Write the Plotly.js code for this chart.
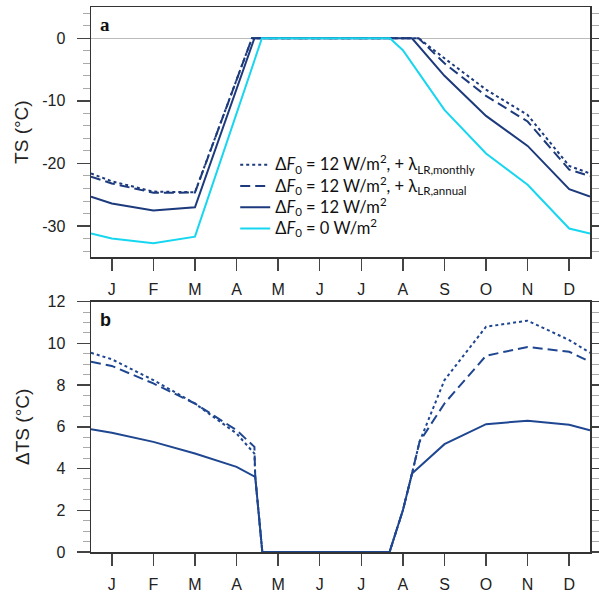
<!DOCTYPE html>
<html>
<head>
<meta charset="utf-8">
<script src="https://cdn.plot.ly/plotly-3.0.1.min.js"></script>
<style>html,body{margin:0;padding:0;background:#fff;}#chart{width:599px;height:595px;}</style>
</head>
<body>
<div id="chart"></div>
<script>
// ---- tick labels ----
const monthTicks = [1,2,3,4,5,6,7,8,9,10,11,12];
const monthLabels = ['J','F','M','A','M','J','J','A','S','O','N','D'];
const tsTickVals = [-30,-20,-10,0];
const tsTickText = ['-30','-20','-10','0'];
const dtsTickVals = [0,2,4,6,8,10,12];

// ---- panel a: TS (°C) ----
const tsF0_x      = [0.5,1,2,3,4.61,7.69,8,9,10,11,12,12.5];
const tsF0_y      = [-31.2,-32.0,-32.75,-31.7,0,0,-1.9,-11.45,-18.4,-23.4,-30.4,-31.2];
const tsF12_x     = [0.5,1,2,3,4.43,8.22,9,10,11,12,12.5];
const tsF12_y     = [-25.3,-26.4,-27.5,-27.0,0,0,-6.0,-12.4,-17.2,-24.1,-25.3];
const tsAnnual_x  = [0.5,1,2,3,4.37,8.38,9,10,11,12,12.5];
const tsAnnual_y  = [-22.1,-23.2,-24.67,-24.66,0,0,-4.0,-9.2,-13.3,-21.0,-22.0];
const tsMonthly_x = [0.5,1,2,3,4.37,8.38,9,10,11,12,12.5];
const tsMonthly_y = [-21.6,-22.85,-24.5,-24.6,0,0,-3.2,-8.2,-12.25,-20.4,-21.6];

// ---- panel b: ΔTS (°C) ----
const dF12_x      = [0.5,1,2,3,4,4.45,4.62,7.68,8,8.22,9,10,11,12,12.5];
const dF12_y      = [5.88,5.72,5.28,4.72,4.08,3.6,0,0,2.0,3.76,5.17,6.13,6.29,6.1,5.84];
const dAnnual_x   = [0.5,1,2,3,4,4.43,4.45,4.62,7.68,8,8.22,8.4,9,10,11,12,12.5];
const dAnnual_y   = [9.12,8.92,8.08,7.12,5.84,5.04,3.6,0,0,2.0,3.76,5.28,7.12,9.41,9.83,9.6,9.12];
const dMonthly_x  = [0.5,1,2,3,4,4.43,4.45,4.62,7.68,8,8.22,8.4,9,10,11,12,12.5];
const dMonthly_y  = [9.55,9.24,8.24,7.12,5.68,4.72,3.6,0,0,2.0,3.76,5.28,8.24,10.8,11.09,10.16,9.55];

const NAVY = '#1c3a7c';
const NAVY_B = '#1f4690';
const CYAN = '#16d6f0';
const LW = 2;

function legText(s){ return '<span style="font-size:16.5px">' + s + '</span>'; }
const legMonthly = legText('\u0394<i>F</i><sub>0</sub> = 12 W/m<sup>2</sup>, + \u03bb<sub>LR,monthly</sub>');
const legAnnual  = legText('\u0394<i>F</i><sub>0</sub> = 12 W/m<sup>2</sup>, + \u03bb<sub>LR,annual</sub>');
const leg12      = legText('\u0394<i>F</i><sub>0</sub> = 12 W/m<sup>2</sup>');
const leg0       = legText('\u0394<i>F</i><sub>0</sub> = 0 W/m<sup>2</sup>');

const traces = [
  {x: tsMonthly_x, y: tsMonthly_y, xaxis:'x', yaxis:'y', mode:'lines', name: legMonthly,
   line:{color:NAVY, width:LW, dash:'3px,3px'}},
  {x: tsAnnual_x, y: tsAnnual_y, xaxis:'x', yaxis:'y', mode:'lines', name: legAnnual,
   line:{color:NAVY, width:LW, dash:'10px,5px'}},
  {x: tsF12_x, y: tsF12_y, xaxis:'x', yaxis:'y', mode:'lines', name: leg12,
   line:{color:NAVY, width:LW}},
  {x: tsF0_x, y: tsF0_y, xaxis:'x', yaxis:'y', mode:'lines', name: leg0,
   line:{color:CYAN, width:LW}},
  {x: dMonthly_x, y: dMonthly_y, xaxis:'x2', yaxis:'y2', mode:'lines', showlegend:false,
   line:{color:NAVY_B, width:LW, dash:'3px,3px'}},
  {x: dAnnual_x, y: dAnnual_y, xaxis:'x2', yaxis:'y2', mode:'lines', showlegend:false,
   line:{color:NAVY_B, width:LW, dash:'10px,5px'}},
  {x: dF12_x, y: dF12_y, xaxis:'x2', yaxis:'y2', mode:'lines', showlegend:false,
   line:{color:NAVY_B, width:LW}}
];

const tickFont = {family:'Liberation Sans, Arial, sans-serif', size:16, color:'#222'};
const titleFont = {family:'Liberation Sans, Arial, sans-serif', size:19, color:'#222'};

function xax(anchor){
  return {anchor: anchor, range:[0.5,12.5], tickmode:'array', tickvals: monthTicks, ticktext: monthLabels,
    ticks:'outside', ticklen:12, tickwidth:1.5, tickcolor:'#444', showline:true, linecolor:'#333', linewidth:1.5,
    mirror:true, showgrid:false, zeroline:false, tickfont: tickFont, ticklabelstandoff: 5};
}

const layout = {
  width:599, height:595,
  margin:{l:91, r:9, t:7, b:43},
  paper_bgcolor:'#fff', plot_bgcolor:'#fff',
  showlegend:true,
  legend:{x:0.289, y:0.739, xanchor:'left', yanchor:'top', bgcolor:'rgba(0,0,0,0)',
    font:{family:'Lato, Noto Sans, sans-serif', size:14, color:'#111'}, tracegroupgap:0, itemwidth:30},
  xaxis: xax('y'),
  xaxis2: xax('y2'),
  yaxis: {domain:[0.5407,1], anchor:'x', range:[-35,5], tickmode:'array', tickvals: tsTickVals, ticktext: tsTickText,
    ticks:'outside', ticklen:13, tickwidth:1.5, tickcolor:'#444', showline:true, linecolor:'#333', linewidth:1.5,
    mirror:'allticks', showgrid:false, zeroline:true, zerolinecolor:'#bbb', zerolinewidth:1.5,
    minor:{dtick:2, tick0:0, ticks:'outside', ticklen:7, tickcolor:'#aaa', tickwidth:1},
    tickfont: tickFont, ticklabelstandoff: 8,
    title:{text:'TS (°C)', font:titleFont, standoff:8}},
  yaxis2: {domain:[0,0.4593], anchor:'x2', range:[0,12], tickmode:'array', tickvals: dtsTickVals,
    ticks:'outside', ticklen:13, tickwidth:1.5, tickcolor:'#444', showline:true, linecolor:'#333', linewidth:1.5,
    mirror:'allticks', showgrid:false, zeroline:false,
    minor:{dtick:0.5, tick0:0, ticks:'outside', ticklen:7, tickcolor:'#aaa', tickwidth:1},
    tickfont: tickFont, ticklabelstandoff: 8,
    title:{text:'\u0394TS (°C)', font:titleFont, standoff:13}},
  annotations:[
    {text:'<b>a</b>', xref:'paper', yref:'paper', x:0.014, y:0.967, xanchor:'left', yanchor:'middle', showarrow:false,
     font:{family:'Liberation Serif, serif', size:19, color:'#111'}},
    {text:'<b>b</b>', xref:'paper', yref:'paper', x:0.014, y:0.4257, xanchor:'left', yanchor:'middle', showarrow:false,
     font:{family:'Liberation Sans, Arial, sans-serif', size:18, color:'#111'}}
  ]
};

Plotly.newPlot('chart', traces, layout, {displayModeBar:false, staticPlot:true});
</script>
</body>
</html>
